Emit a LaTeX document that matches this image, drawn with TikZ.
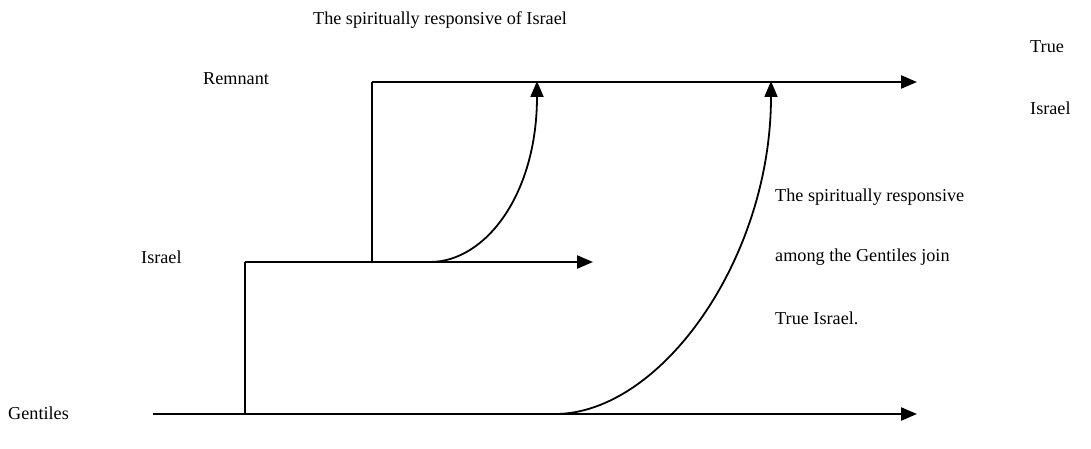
\documentclass[tikz,border=0pt]{standalone}
\usepackage{fontspec}
\setmainfont{Liberation Serif}
\usetikzlibrary{arrows.meta}
\begin{document}
\begin{tikzpicture}[x=1pt,y=-1pt,
  line/.style={line width=2.4pt},
  arr/.style={line width=2.4pt,-{Triangle[length=16pt,width=13pt]}},
  curvearr/.style={line width=1.8pt,-{Triangle[length=16pt,width=13pt]}},
  lbl/.style={inner sep=0pt,font=\fontsize{18.2}{21}\selectfont},
]
\useasboundingbox (0,0) rectangle (1091,449);
% coordinates
\coordinate (gs) at (153,414);
\coordinate (ge) at (917,414);
\coordinate (ib) at (245,414);
\coordinate (it) at (245,262);
\coordinate (ie) at (593,262);
\coordinate (rb) at (372,262);
\coordinate (rt) at (372,82);
\coordinate (re) at (917,82);
\coordinate (c1s) at (430,262);
\coordinate (c1e) at (537,81);
\coordinate (c2s) at (555,414);
\coordinate (c2e) at (771,81);
% lines
\draw[arr] (gs) -- (ge);
\draw[line] (ib) -- (it);
\draw[arr] (it) -- (ie);
\draw[line] (rb) -- (rt);
\draw[arr] (rt) -- (re);
\draw[curvearr] (c1s) .. controls (485,262) and (537,195) .. (c1e);
\draw[curvearr] (c2s) .. controls (660,414) and (771,260) .. (c2e);
% labels
\node[lbl] (top) at (440,20) {The spiritually responsive of Israel};
\node[lbl,anchor=west] (true1) at (1030,47) {True};
\node[lbl,anchor=west] (true2) at (1030,108) {Israel};
\node[lbl,anchor=west] (rem) at (203,79) {Remnant};
\node[lbl,anchor=west] (isr) at (141,257) {Israel};
\node[lbl,anchor=west] (gen) at (8,413) {Gentiles};
\node[lbl,anchor=west] (s1) at (775,197) {The spiritually responsive};
\node[lbl,anchor=west] (s2) at (775,257) {among the Gentiles join};
\node[lbl,anchor=west] (s3) at (775,318) {True Israel.};
\end{tikzpicture}
\end{document}
